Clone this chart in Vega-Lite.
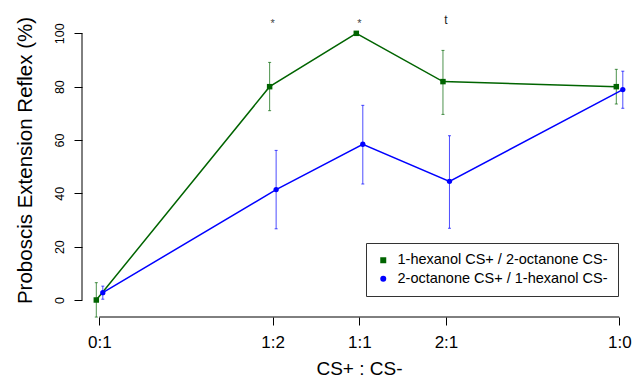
{
  "$schema": "https://vega.github.io/schema/vega-lite/v6.json",
  "width": 548,
  "height": 307,
  "autosize": "none",
  "padding": {"left": 82, "top": 10, "right": 14, "bottom": 63},
  "background": "white",
  "config": {
    "view": {"stroke": null},
    "font": "Liberation Sans",
    "axis": {"grid": false, "domain": false, "tickColor": "black", "labelColor": "black", "titleColor": "black", "tickSize": 8, "titleFontWeight": "normal", "labelFont": "Liberation Sans", "titleFont": "Liberation Sans"},
    "legend": {"title": null, "orient": "none", "legendX": 284, "legendY": 233, "strokeColor": "#333", "fillColor": "white", "padding": 10, "labelFontSize": 14.5, "labelColor": "black", "labelLimit": 400, "symbolSize": 36, "rowPadding": 3.5, "labelOffset": 7, "symbolStrokeWidth": 0, "symbolOpacity": 1}
  },
  "datasets": {
    "pts": [
      {"series": "1-hexanol CS+ / 2-octanone CS-", "ratio": "0:1", "p": 0, "pct": 0, "lo": -6.4, "hi": 6.5},
      {"series": "1-hexanol CS+ / 2-octanone CS-", "ratio": "1:2", "p": 0.33333, "pct": 80, "lo": 71.0, "hi": 89.1},
      {"series": "1-hexanol CS+ / 2-octanone CS-", "ratio": "1:1", "p": 0.5, "pct": 100, "lo": null, "hi": null},
      {"series": "1-hexanol CS+ / 2-octanone CS-", "ratio": "2:1", "p": 0.66667, "pct": 81.9, "lo": 69.6, "hi": 93.6},
      {"series": "1-hexanol CS+ / 2-octanone CS-", "ratio": "1:0", "p": 1, "pct": 80, "lo": 73.5, "hi": 86.5},
      {"series": "2-octanone CS+ / 1-hexanol CS-", "ratio": "0:1", "p": 0, "pct": 2.75, "lo": 0.3, "hi": 5.2},
      {"series": "2-octanone CS+ / 1-hexanol CS-", "ratio": "1:2", "p": 0.33333, "pct": 41.4, "lo": 26.7, "hi": 56.1},
      {"series": "2-octanone CS+ / 1-hexanol CS-", "ratio": "1:1", "p": 0.5, "pct": 58.4, "lo": 43.5, "hi": 73.0},
      {"series": "2-octanone CS+ / 1-hexanol CS-", "ratio": "2:1", "p": 0.66667, "pct": 44.5, "lo": 26.9, "hi": 61.6},
      {"series": "2-octanone CS+ / 1-hexanol CS-", "ratio": "1:0", "p": 1, "pct": 78.9, "lo": 71.9, "hi": 85.8}
    ]
  },
  "layer": [
    {
      "data": {"name": "pts"},
      "transform": [{"filter": "datum.series == '1-hexanol CS+ / 2-octanone CS-'"}],
      "encoding": {
        "x": {
          "field": "p", "type": "quantitative",
          "scale": {"domain": [-0.03327, 1.02058], "nice": false, "zero": false},
          "axis": {
            "values": [0, 0.33333, 0.5, 0.66667, 1],
            "labelExpr": "datum.value < 0.1 ? '0:1' : datum.value < 0.4 ? '1:2' : datum.value < 0.6 ? '1:1' : datum.value < 0.9 ? '2:1' : '1:0'",
            "title": "CS+ : CS-",
            "labelFontSize": 17, "labelBaseline": "alphabetic", "labelPadding": 22, "labelFlush": false, "labelOverlap": false,
            "titleFontSize": 19, "titleX": 277, "titleY": 57, "titleBaseline": "alphabetic", "titleAlign": "center"
          }
        },
        "y": {
          "field": "pct", "type": "quantitative",
          "scale": {"domain": [-6.375, 108.75], "nice": false, "zero": false},
          "axis": {
            "values": [0, 20, 40, 60, 80, 100],
            "title": "Proboscis Extension Reflex (%)",
            "labelAngle": 270, "labelAlign": "center", "labelBaseline": "alphabetic", "labelPadding": 11, "labelFontSize": 12.5,
            "titleFontSize": 20.5, "titleAngle": 270, "titleAlign": "center", "titleBaseline": "alphabetic", "titleX": -51, "titleY": 150
          }
        },
        "color": {"field": "series", "type": "nominal", "scale": {"domain": ["1-hexanol CS+ / 2-octanone CS-", "2-octanone CS+ / 1-hexanol CS-"], "range": ["#006400", "#0000ff"]}}
      },
      "layer": [
        {"transform": [{"filter": "datum.lo != null"}], "mark": {"type": "rule", "xOffset": -3, "strokeWidth": 1, "opacity": 0.7}, "encoding": {"y": {"field": "lo", "type": "quantitative"}, "y2": {"field": "hi"}}},
        {"transform": [{"filter": "datum.lo != null"}], "mark": {"type": "tick", "orient": "horizontal", "xOffset": -3, "size": 3, "thickness": 1, "opacity": 0.7}, "encoding": {"y": {"field": "lo", "type": "quantitative"}}},
        {"transform": [{"filter": "datum.lo != null"}], "mark": {"type": "tick", "orient": "horizontal", "xOffset": -3, "size": 3, "thickness": 1, "opacity": 0.7}, "encoding": {"y": {"field": "hi", "type": "quantitative"}}},
        {"mark": {"type": "line", "xOffset": -3, "strokeWidth": 1.5}},
        {"mark": {"type": "point", "xOffset": -3, "filled": true, "opacity": 1, "size": 30},
          "encoding": {"shape": {"field": "series", "type": "nominal", "scale": {"domain": ["1-hexanol CS+ / 2-octanone CS-", "2-octanone CS+ / 1-hexanol CS-"], "range": ["square", "circle"]}}}}
      ]
    },
    {
      "data": {"name": "pts"},
      "transform": [{"filter": "datum.series == '2-octanone CS+ / 1-hexanol CS-'"}],
      "encoding": {
        "x": {"field": "p", "type": "quantitative"},
        "y": {"field": "pct", "type": "quantitative"},
        "color": {"field": "series", "type": "nominal"}
      },
      "layer": [
        {"transform": [{"filter": "datum.lo != null"}], "mark": {"type": "rule", "xOffset": 3.5, "strokeWidth": 1, "opacity": 0.7}, "encoding": {"y": {"field": "lo", "type": "quantitative"}, "y2": {"field": "hi"}}},
        {"transform": [{"filter": "datum.lo != null"}], "mark": {"type": "tick", "orient": "horizontal", "xOffset": 3.5, "size": 3, "thickness": 1, "opacity": 0.7}, "encoding": {"y": {"field": "lo", "type": "quantitative"}}},
        {"transform": [{"filter": "datum.lo != null"}], "mark": {"type": "tick", "orient": "horizontal", "xOffset": 3.5, "size": 3, "thickness": 1, "opacity": 0.7}, "encoding": {"y": {"field": "hi", "type": "quantitative"}}},
        {"mark": {"type": "line", "xOffset": 3.5, "strokeWidth": 1.5}},
        {"mark": {"type": "point", "xOffset": 3.5, "filled": true, "opacity": 1, "size": 28},
          "encoding": {"shape": {"field": "series", "type": "nominal"}}}
      ]
    },
    {
      "data": {"values": [{}]},
      "mark": {"type": "rule", "color": "black", "strokeWidth": 1},
      "encoding": {"x": {"datum": 0}, "x2": {"datum": 1}, "y": {"datum": -6.375}}
    },
    {
      "data": {"values": [{}]},
      "mark": {"type": "rule", "color": "black", "strokeWidth": 1},
      "encoding": {"x": {"datum": -0.03327}, "y": {"datum": 0}, "y2": {"datum": 100}}
    },
    {
      "data": {"values": [{"p": 0.33333, "label": "*"}, {"p": 0.5, "label": "*"}]},
      "mark": {"type": "text", "fontSize": 11, "fill": "#444", "baseline": "alphabetic", "align": "center", "dy": 7},
      "encoding": {"x": {"field": "p", "type": "quantitative"}, "y": {"datum": 105}, "text": {"field": "label", "type": "nominal"}}
    },
    {
      "data": {"values": [{"p": 0.66667, "label": "t"}]},
      "mark": {"type": "text", "fontSize": 12, "fill": "#222", "baseline": "alphabetic", "align": "center", "dy": 4},
      "encoding": {"x": {"field": "p", "type": "quantitative"}, "y": {"datum": 105}, "text": {"field": "label", "type": "nominal"}}
    }
  ]
}
